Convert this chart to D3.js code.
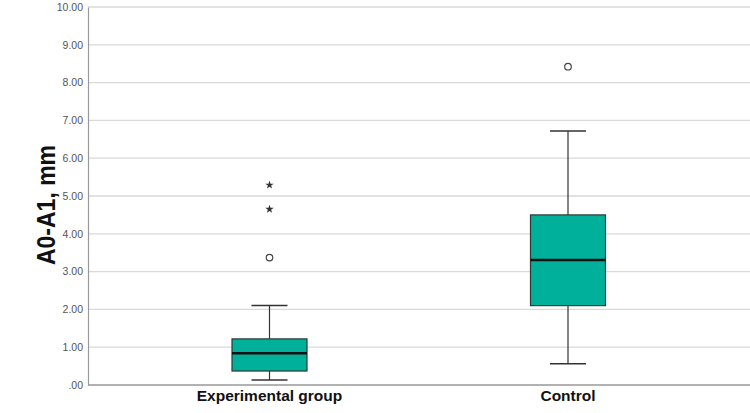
<!DOCTYPE html>
<html><head><meta charset="utf-8">
<script src="https://cdn.jsdelivr.net/npm/d3@7"></script>
<style>body{margin:0;background:#fff;} svg{display:block;}</style>
</head><body>
<svg id="c" width="750" height="413"></svg>
<script>
const categories = ["Experimental group", "Control"];
const whiskerLow = [0.13, 0.56];
const q1 = [0.37, 2.10];
const median = [0.84, 3.31];
const q3 = [1.22, 4.50];
const whiskerHigh = [2.10, 6.72];
const circleOutliers = [[3.37], [8.42]];
const starOutliers = [[4.65, 5.29], []];
const yTicks = [0,1,2,3,4,5,6,7,8,9,10];

const svg = d3.select("#c");
const x = d3.scaleBand().domain(categories).range([120.25, 717.25]);
const y = d3.scaleLinear().domain([0, 10]).range([385, 7]);
const fmt = v => v === 0 ? ".00" : d3.format(".2f")(v);
const FONT = "Liberation Sans, Arial, sans-serif";

// gridlines
svg.append("g").selectAll("line").data(yTicks.filter(d=>d>0)).join("line")
  .attr("x1", 88).attr("x2", 750)
  .attr("y1", d=>y(d)).attr("y2", d=>y(d))
  .attr("stroke", "#d9d9d9").attr("stroke-width", 1.3);

// y axis
const ya = svg.append("g").attr("transform","translate(88,0)")
  .call(d3.axisLeft(y).tickValues(yTicks).tickFormat(fmt).tickSize(0).tickPadding(5));
ya.select(".domain").attr("stroke","#999").attr("stroke-width",1.2);
ya.selectAll("text").attr("font-family",FONT).attr("font-size",10.5).attr("fill","#555");

// x axis
const xa = svg.append("g").attr("transform","translate(0,385)")
  .call(d3.axisBottom(x).tickSize(0).tickPadding(5));
xa.select(".domain").remove();
svg.append("line").attr("x1",88).attr("x2",750).attr("y1",385).attr("y2",385).attr("stroke","#999").attr("stroke-width",1.3);
xa.selectAll("text").attr("font-family",FONT).attr("font-size",15.5).attr("font-weight","bold").attr("fill","#111");

// y title
svg.append("text").attr("transform","translate(55,205) rotate(-90)")
  .attr("text-anchor","middle").attr("font-family",FONT)
  .attr("font-size",26).attr("font-weight","bold").attr("fill","#111")
  .attr("textLength",120).attr("lengthAdjust","spacingAndGlyphs").text("A0-A1, mm");

const boxW = 75, capW = 36;
const g = svg.append("g");
categories.forEach((c,i)=>{
  const cx = x(c) + x.bandwidth()/2;
  g.append("line").attr("x1",cx).attr("x2",cx).attr("y1",y(whiskerLow[i])).attr("y2",y(q1[i])).attr("stroke","#333").attr("stroke-width",1.2);
  g.append("line").attr("x1",cx).attr("x2",cx).attr("y1",y(q3[i])).attr("y2",y(whiskerHigh[i])).attr("stroke","#333").attr("stroke-width",1.2);
  [whiskerLow[i], whiskerHigh[i]].forEach(v=>{
    g.append("line").attr("x1",cx-capW/2).attr("x2",cx+capW/2).attr("y1",y(v)).attr("y2",y(v)).attr("stroke","#333").attr("stroke-width",1.5);
  });
  g.append("rect").attr("x",cx-boxW/2).attr("width",boxW).attr("y",y(q3[i])).attr("height",y(q1[i])-y(q3[i]))
    .attr("fill","#00B09A").attr("stroke","#2b3a36").attr("stroke-width",1.2);
  g.append("line").attr("x1",cx-boxW/2).attr("x2",cx+boxW/2).attr("y1",y(median[i])).attr("y2",y(median[i])).attr("stroke","#111").attr("stroke-width",2.5);
  circleOutliers[i].forEach(v=>{
    g.append("circle").attr("cx",cx).attr("cy",y(v)).attr("r",3.3).attr("fill","#fff").attr("stroke","#444").attr("stroke-width",1.2);
  });
  starOutliers[i].forEach(v=>{
    g.append("path").attr("d",d3.symbol(d3.symbolStar,22)()).attr("transform",`translate(${cx},${y(v)})`).attr("fill","#333");
  });
});
</script>
</body></html>
